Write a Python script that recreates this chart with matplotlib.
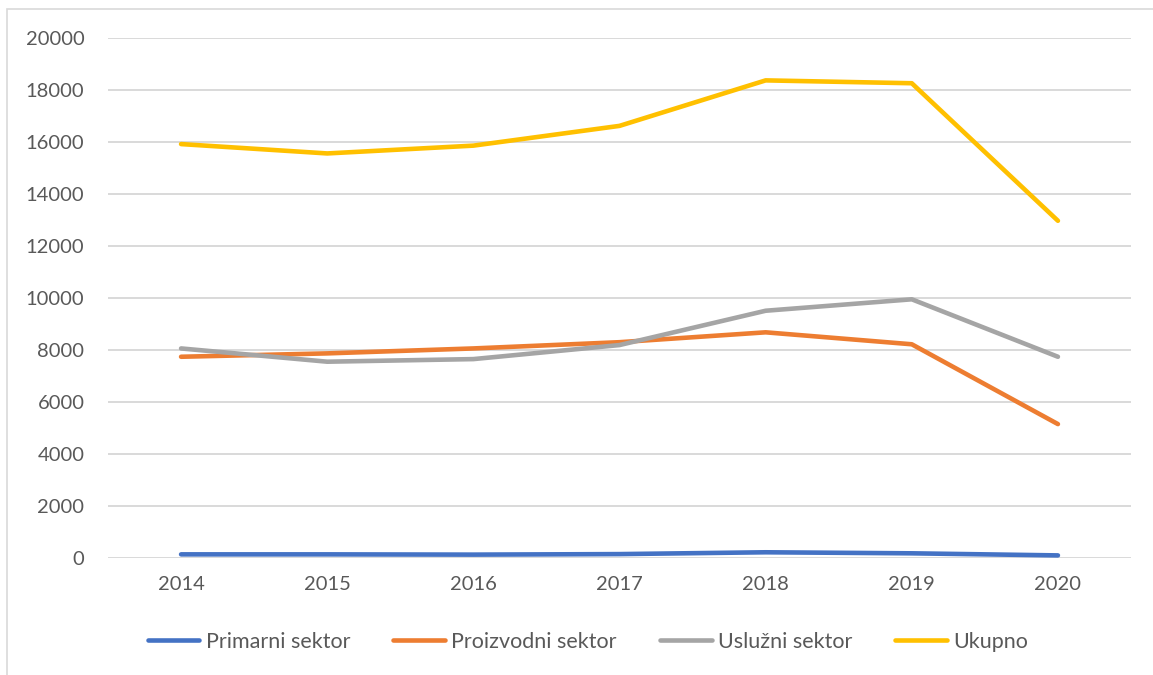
import matplotlib.pyplot as plt
import matplotlib.patches as patches

# values
years      = ['2014', '2015', '2016', '2017', '2018', '2019', '2020']
primarni   = [140, 140, 130, 150, 220, 180, 100]
proizvodni = [7740, 7870, 8060, 8300, 8680, 8220, 5150]
usluzni    = [8060, 7550, 7650, 8190, 9510, 9950, 7740]
ukupno     = [15920, 15560, 15860, 16620, 18370, 18260, 12970]

series = [
    ('Primarni sektor',   primarni,   '#4472C4'),
    ('Proizvodni sektor', proizvodni, '#ED7D31'),
    ('Uslužni sektor',    usluzni,    '#A5A5A5'),
    ('Ukupno',            ukupno,     '#FFC000'),
]

plt.rcParams['font.family'] = ['Lato', 'DejaVu Sans']

W, H = 1153, 675
fig = plt.figure(figsize=(W / 100, H / 100), dpi=100)
ax = fig.add_axes([108 / W, 1 - 558 / H, (1131 - 108) / W, (558 - 38) / H])

x = list(range(len(years)))
for name, vals, col in series:
    ax.plot(x, vals, color=col, lw=3.3, label=name,
            solid_capstyle='round', solid_joinstyle='round')

ax.set_xlim(-0.5, len(years) - 0.5)
ax.set_ylim(0, 20000)
ax.set_yticks(range(0, 20001, 2000))
ax.set_xticks(x)
ax.set_xticklabels(years)
ax.grid(axis='y', color='#D9D9D9', lw=1.4)
ax.set_axisbelow(True)
for s in ax.spines.values():
    s.set_visible(False)
ax.tick_params(axis='both', length=0, labelsize=14.5, colors='#595959')
ax.tick_params(axis='y', pad=17)
ax.tick_params(axis='x', pad=13)

fig.legend(loc='center', bbox_to_anchor=(588 / W, 1 - 642 / H), ncol=4,
           frameon=False, fontsize=15.5, handlelength=2.4, handletextpad=0.3,
           columnspacing=2.0, labelcolor='#595959')

# light frame around the chart area
fig.patches.append(patches.Rectangle((7 / W, -0.05), 1.2, 1 - 9 / H + 0.05,
                                     transform=fig.transFigure, fill=False,
                                     edgecolor='#D9D9D9', lw=1.2))

fig.savefig('out.png', dpi=100)
